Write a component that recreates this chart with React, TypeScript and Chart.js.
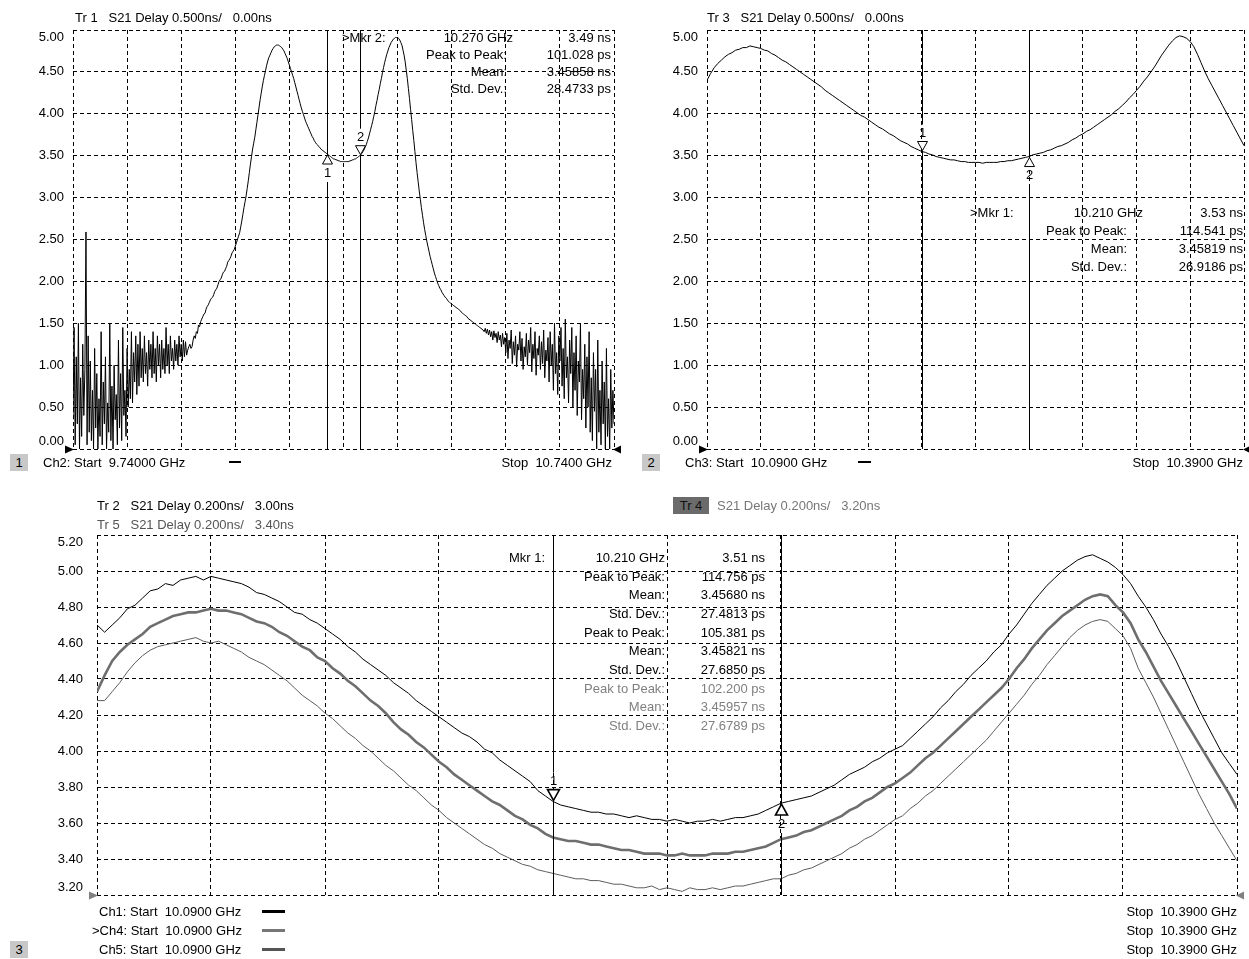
import React, { useEffect, useRef } from "react";
import { Chart, registerables } from "chart.js";
Chart.register(...registerables);

const FONT = '"Liberation Sans", Arial, Helvetica, sans-serif';

// ---------- Panel 1 (Tr 1, Ch2) : 501 points, 9.74 .. 10.74 GHz ----------
const P1_START = 9.74;
const P1_STOP = 10.74;
const P1_DELAY = [
  0.35, 1.45, 0.05, 1.10, 0.30, 1.50, 0.00, 0.85, 0.15, 1.25, 0.40, 0.95, 2.59, 0.05, 1.35, 0.20, 1.05, 0.10, 0.70, 0.00,
  1.20, 0.25, 0.90, 0.00, 0.60, 0.15, 1.40, 0.05, 0.80, 0.30, 1.10, 0.00, 0.55, 0.20, 1.50, 0.10, 0.75, 0.00, 1.00, 0.35,
  0.65, 0.05, 1.30, 0.25, 0.90, 0.10, 1.45, 0.40, 0.70, 0.15, 1.20, 0.50, 0.95, 0.60, 1.40, 0.55, 1.15, 0.80, 1.35, 0.65,
  1.25, 0.75, 1.40, 0.85, 1.20, 0.80, 1.35, 0.90, 1.15, 0.75, 1.30, 0.95, 1.25, 0.85, 1.40, 0.90, 1.20, 0.80, 1.35, 1.00,
  1.25, 0.85, 1.30, 0.95, 1.20, 0.90, 1.45, 1.00, 1.25, 0.90, 1.35, 1.05, 1.20, 0.95, 1.30, 1.05, 1.25, 1.00, 1.35, 1.10,
  1.25, 1.05, 1.30, 1.10, 1.28, 1.12, 1.18, 1.22, 1.25, 1.20, 1.22, 1.30, 1.35, 1.32, 1.40, 1.38, 1.48, 1.46, 1.52, 1.55,
  1.58, 1.61, 1.62, 1.67, 1.70, 1.72, 1.75, 1.78, 1.80, 1.81, 1.84, 1.88, 1.90, 1.92, 1.96, 2.00, 2.02, 2.04, 2.08, 2.11,
  2.12, 2.15, 2.18, 2.23, 2.25, 2.27, 2.30, 2.34, 2.36, 2.38, 2.42, 2.46, 2.50, 2.54, 2.58, 2.65, 2.72, 2.80, 2.88, 2.95,
  3.02, 3.11, 3.20, 3.30, 3.40, 3.49, 3.58, 3.65, 3.72, 3.81, 3.90, 3.99, 4.08, 4.17, 4.25, 4.33, 4.40, 4.46, 4.52, 4.58,
  4.63, 4.67, 4.70, 4.73, 4.76, 4.78, 4.80, 4.81, 4.82, 4.82, 4.82, 4.81, 4.80, 4.79, 4.77, 4.75, 4.72, 4.69, 4.66, 4.62,
  4.58, 4.54, 4.50, 4.46, 4.42, 4.37, 4.32, 4.27, 4.22, 4.17, 4.12, 4.07, 4.03, 3.99, 3.95, 3.91, 3.88, 3.85, 3.82, 3.79,
  3.76, 3.73, 3.71, 3.68, 3.66, 3.64, 3.63, 3.61, 3.60, 3.58, 3.57, 3.56, 3.55, 3.54, 3.53, 3.52, 3.51, 3.50, 3.49, 3.48,
  3.47, 3.46, 3.46, 3.45, 3.45, 3.44, 3.44, 3.43, 3.43, 3.43, 3.43, 3.43, 3.43, 3.43, 3.43, 3.43, 3.44, 3.44, 3.45, 3.45,
  3.46, 3.46, 3.47, 3.48, 3.49, 3.50, 3.51, 3.53, 3.55, 3.57, 3.60, 3.63, 3.67, 3.71, 3.76, 3.81, 3.86, 3.91, 3.97, 4.03,
  4.10, 4.16, 4.23, 4.29, 4.36, 4.42, 4.49, 4.55, 4.61, 4.66, 4.71, 4.75, 4.79, 4.82, 4.85, 4.87, 4.89, 4.90, 4.91, 4.91,
  4.91, 4.90, 4.88, 4.85, 4.82, 4.76, 4.70, 4.62, 4.52, 4.42, 4.30, 4.18, 4.05, 3.93, 3.80, 3.68, 3.55, 3.42, 3.30, 3.19,
  3.08, 2.98, 2.88, 2.79, 2.70, 2.62, 2.55, 2.48, 2.42, 2.36, 2.30, 2.25, 2.20, 2.15, 2.10, 2.06, 2.02, 1.98, 1.95, 1.92,
  1.90, 1.87, 1.85, 1.83, 1.81, 1.80, 1.78, 1.76, 1.75, 1.74, 1.73, 1.72, 1.71, 1.70, 1.69, 1.68, 1.67, 1.66, 1.65, 1.63,
  1.62, 1.61, 1.60, 1.59, 1.58, 1.56, 1.55, 1.54, 1.53, 1.52, 1.51, 1.50, 1.49, 1.48, 1.47, 1.46, 1.45, 1.44, 1.43, 1.42,
  1.40, 1.44, 1.38, 1.43, 1.36, 1.42, 1.34, 1.40, 1.30, 1.41, 1.33, 1.38, 1.27, 1.40, 1.30, 1.36, 1.22, 1.38, 1.25, 1.33,
  1.15, 1.38, 1.08, 1.30, 1.20, 1.42, 1.02, 1.28, 1.12, 1.35, 0.98, 1.25, 1.18, 1.40, 1.05, 1.32, 0.95, 1.22, 1.10, 1.38,
  1.00, 1.30, 1.15, 1.45, 0.92, 1.25, 1.08, 1.40, 0.88, 1.20, 1.12, 1.35, 0.95, 1.28, 1.02, 1.42, 0.85, 1.18, 1.05, 1.33,
  0.80, 1.40, 1.00, 1.25, 0.70, 1.50, 0.90, 1.15, 0.65, 1.35, 1.05, 1.45, 0.75, 1.20, 0.60, 1.55, 0.85, 1.10, 0.55, 1.30,
  0.90, 1.45, 0.50, 1.15, 0.70, 1.35, 0.40, 1.05, 0.80, 1.50, 0.35, 0.95, 0.60, 1.25, 0.25, 1.10, 0.50, 1.40, 0.20, 0.85,
  0.10, 1.15, 0.45, 0.95, 0.00, 1.30, 0.20, 0.70, 0.05, 1.05, 0.30, 0.80, 0.00, 1.20, 0.15, 0.60, 0.00, 0.95, 0.25, 0.70,
  0.30,
];

// ---------- Panel 2 (Tr 3, Ch3) ----------
const P2_START = 10.09;
const P2_STOP = 10.39;
const P2_DELAY = [
  4.40, 4.48, 4.55, 4.60, 4.64, 4.68, 4.71, 4.73, 4.76, 4.77,
  4.79, 4.79, 4.81, 4.80, 4.79, 4.78, 4.76, 4.75, 4.72, 4.70,
  4.67, 4.64, 4.62, 4.59, 4.56, 4.53, 4.50, 4.47, 4.44, 4.41,
  4.38, 4.35, 4.32, 4.28, 4.25, 4.22, 4.19, 4.16, 4.13, 4.10,
  4.07, 4.04, 4.01, 3.98, 3.96, 3.93, 3.90, 3.87, 3.84, 3.82,
  3.79, 3.76, 3.74, 3.71, 3.68, 3.66, 3.64, 3.61, 3.59, 3.57,
  3.55, 3.54, 3.52, 3.51, 3.49, 3.48, 3.47, 3.46, 3.45, 3.45,
  3.44, 3.43, 3.43, 3.42, 3.42, 3.42, 3.42, 3.41, 3.42, 3.42,
  3.42, 3.42, 3.43, 3.43, 3.44, 3.44, 3.45, 3.46, 3.47, 3.48,
  3.49, 3.51, 3.52, 3.53, 3.54, 3.56, 3.57, 3.59, 3.61, 3.62,
  3.64, 3.66, 3.69, 3.71, 3.74, 3.76, 3.79, 3.81, 3.84, 3.87,
  3.90, 3.93, 3.96, 3.99, 4.03, 4.06, 4.10, 4.14, 4.19, 4.23,
  4.28, 4.33, 4.39, 4.44, 4.50, 4.56, 4.63, 4.70, 4.76, 4.82,
  4.87, 4.91, 4.93, 4.92, 4.90, 4.86, 4.80, 4.71, 4.61, 4.51,
  4.42, 4.34, 4.26, 4.18, 4.10, 4.02, 3.94, 3.86, 3.78, 3.70,
  3.62,
];

// ---------- Panel 3 (Tr 2 / Tr 4 / Tr 5) ----------
const P3_START = 10.09;
const P3_STOP = 10.39;
const P3_CH1 = [
  4.70, 4.66, 4.70, 4.74, 4.79, 4.81, 4.85, 4.89, 4.90, 4.93,
  4.92, 4.95, 4.96, 4.97, 4.95, 4.97, 4.96, 4.95, 4.94, 4.93,
  4.91, 4.88, 4.87, 4.85, 4.83, 4.80, 4.77, 4.76, 4.73, 4.71,
  4.68, 4.65, 4.62, 4.58, 4.55, 4.51, 4.48, 4.45, 4.42, 4.38,
  4.35, 4.32, 4.28, 4.25, 4.22, 4.19, 4.16, 4.13, 4.10, 4.08,
  4.05, 4.01, 3.99, 3.95, 3.92, 3.89, 3.86, 3.83, 3.78, 3.75,
  3.72, 3.70, 3.69, 3.68, 3.67, 3.66, 3.66, 3.65, 3.65, 3.64,
  3.63, 3.64, 3.63, 3.62, 3.62, 3.61, 3.62, 3.61, 3.60, 3.61,
  3.61, 3.62, 3.61, 3.62, 3.63, 3.63, 3.64, 3.65, 3.67, 3.69,
  3.71, 3.72, 3.73, 3.74, 3.75, 3.77, 3.79, 3.81, 3.84, 3.87,
  3.89, 3.91, 3.94, 3.96, 3.99, 4.01, 4.03, 4.07, 4.11, 4.15,
  4.19, 4.24, 4.28, 4.33, 4.37, 4.42, 4.46, 4.50, 4.55, 4.59,
  4.65, 4.70, 4.76, 4.82, 4.87, 4.92, 4.96, 5.00, 5.03, 5.06,
  5.08, 5.09, 5.07, 5.05, 5.02, 4.98, 4.93, 4.86, 4.80, 4.73,
  4.65, 4.58, 4.50, 4.41, 4.32, 4.23, 4.15, 4.07, 3.99, 3.93,
  3.87,
];
const P3_CH4 = [
  4.33, 4.42, 4.50, 4.55, 4.59, 4.62, 4.65, 4.69, 4.71, 4.73,
  4.75, 4.76, 4.77, 4.77, 4.78, 4.79, 4.78, 4.78, 4.77, 4.76,
  4.74, 4.72, 4.71, 4.69, 4.66, 4.64, 4.61, 4.58, 4.56, 4.52,
  4.50, 4.46, 4.43, 4.39, 4.36, 4.32, 4.28, 4.25, 4.21, 4.16,
  4.12, 4.09, 4.05, 4.02, 3.98, 3.94, 3.91, 3.87, 3.84, 3.81,
  3.78, 3.75, 3.72, 3.70, 3.67, 3.64, 3.62, 3.59, 3.57, 3.54,
  3.52, 3.51, 3.50, 3.50, 3.49, 3.48, 3.48, 3.47, 3.46, 3.45,
  3.45, 3.44, 3.43, 3.43, 3.43, 3.42, 3.42, 3.43, 3.42, 3.42,
  3.42, 3.43, 3.43, 3.43, 3.44, 3.44, 3.45, 3.46, 3.47, 3.49,
  3.51, 3.52, 3.53, 3.55, 3.56, 3.58, 3.60, 3.62, 3.64, 3.67,
  3.69, 3.72, 3.74, 3.77, 3.80, 3.82, 3.85, 3.88, 3.92, 3.96,
  3.99, 4.03, 4.07, 4.11, 4.15, 4.19, 4.23, 4.27, 4.31, 4.35,
  4.40, 4.46, 4.51, 4.57, 4.62, 4.67, 4.71, 4.75, 4.78, 4.81,
  4.84, 4.86, 4.87, 4.86, 4.81, 4.77, 4.71, 4.62, 4.55, 4.47,
  4.39, 4.32, 4.25, 4.18, 4.11, 4.04, 3.97, 3.90, 3.83, 3.76,
  3.68,
];
const P3_CH5 = [
  4.28, 4.28, 4.33, 4.38, 4.44, 4.49, 4.53, 4.56, 4.58, 4.59,
  4.60, 4.61, 4.62, 4.63, 4.61, 4.60, 4.61, 4.59, 4.57, 4.55,
  4.52, 4.50, 4.48, 4.45, 4.42, 4.39, 4.35, 4.31, 4.28, 4.25,
  4.21, 4.18, 4.14, 4.10, 4.07, 4.03, 4.00, 3.96, 3.92, 3.89,
  3.85, 3.81, 3.78, 3.74, 3.70, 3.67, 3.63, 3.60, 3.57, 3.54,
  3.51, 3.48, 3.46, 3.43, 3.41, 3.39, 3.37, 3.36, 3.34, 3.33,
  3.32, 3.31, 3.30, 3.29, 3.29, 3.28, 3.28, 3.27, 3.26, 3.26,
  3.25, 3.24, 3.24, 3.25, 3.23, 3.24, 3.23, 3.22, 3.24, 3.23,
  3.23, 3.24, 3.23, 3.24, 3.25, 3.25, 3.26, 3.27, 3.28, 3.29,
  3.29, 3.31, 3.32, 3.34, 3.35, 3.37, 3.39, 3.41, 3.43, 3.46,
  3.48, 3.51, 3.53, 3.56, 3.59, 3.62, 3.64, 3.68, 3.71, 3.75,
  3.78, 3.82, 3.86, 3.90, 3.94, 3.98, 4.02, 4.06, 4.11, 4.16,
  4.21, 4.26, 4.31, 4.37, 4.42, 4.48, 4.53, 4.58, 4.63, 4.67,
  4.70, 4.72, 4.73, 4.72, 4.68, 4.64, 4.57, 4.46, 4.38, 4.30,
  4.21, 4.12, 4.03, 3.94, 3.85, 3.76, 3.68, 3.60, 3.53, 3.46,
  3.39,
];

// ---------- ticks ----------
const X1_TICKS = [9.74, 9.84, 9.94, 10.04, 10.14, 10.24, 10.34, 10.44, 10.54, 10.64, 10.74];
const X23_TICKS = [10.09, 10.12, 10.15, 10.18, 10.21, 10.24, 10.27, 10.30, 10.33, 10.36, 10.39];
const Y12_TICKS = [0, 0.5, 1.0, 1.5, 2.0, 2.5, 3.0, 3.5, 4.0, 4.5, 5.0];
const Y3_TICKS = [3.2, 3.4, 3.6, 3.8, 4.0, 4.2, 4.4, 4.6, 4.8, 5.0, 5.2];

// ---------- markers ----------
const MARKER_FREQS = [10.21, 10.27];
const MARKER_LABELS = ["1", "2"];

function toPoints(start: number, stop: number, vals: number[]) {
  const n = vals.length;
  return vals.map((v, i) => ({ x: start + ((stop - start) * i) / (n - 1), y: v }));
}

function interp(data: { x: number; y: number }[], f: number) {
  for (let i = 0; i < data.length - 1; i++) {
    const a = data[i], b = data[i + 1];
    if (f >= a.x && f <= b.x) {
      const t = (f - a.x) / (b.x - a.x);
      return a.y + t * (b.y - a.y);
    }
  }
  return data[data.length - 1].y;
}

const vnaPlugin = {
  id: "vna",
  afterDatasetsDraw(chart: any, _args: any, opts: any) {
    const { ctx, chartArea: a } = chart;
    const xs = chart.scales.x;
    const ys = chart.scales.y;
    ctx.save();
    // stimulus arrows at bottom corners
    ctx.fillStyle = opts.arrowColor || "#000";
    const b = Math.round(a.bottom) + 0.5;
    ctx.beginPath();
    ctx.moveTo(a.left - 8, b - 4);
    ctx.lineTo(a.left + 1, b);
    ctx.lineTo(a.left - 8, b + 4);
    ctx.closePath();
    ctx.fill();
    ctx.beginPath();
    ctx.moveTo(a.right + 7, b - 4);
    ctx.lineTo(a.right - 1, b);
    ctx.lineTo(a.right + 7, b + 4);
    ctx.closePath();
    ctx.fill();

    const s = opts.size || 10;
    const h = s * 0.9;
    ctx.font = `13px ${FONT}`;
    ctx.textAlign = "center";
    ctx.textBaseline = "middle";
    const seg = (x: number, y1: number, y2: number) => {
      if (y2 <= y1) return;
      ctx.beginPath();
      ctx.moveTo(x, y1);
      ctx.lineTo(x, y2);
      ctx.stroke();
    };
    for (const m of opts.markers) {
      const data = chart.data.datasets[m.ds].data;
      const v = interp(data, m.f);
      const px = Math.round(xs.getPixelForValue(m.f)) + 0.5;
      const py = ys.getPixelForValue(v);
      ctx.strokeStyle = "#000";
      ctx.lineWidth = 1;
      let tip: number, base: number, lab: number;
      if (m.active) {
        tip = py - 1;
        base = tip - h;
        lab = base - 8;
        seg(px, a.top, lab - 9);
        seg(px, tip, a.bottom);
      } else {
        tip = py + 1;
        base = tip + h;
        lab = base + 9;
        seg(px, a.top, tip);
        seg(px, lab + 9, a.bottom);
      }
      ctx.beginPath();
      ctx.moveTo(px - s / 2, base);
      ctx.lineTo(px + s / 2, base);
      ctx.lineTo(px, tip);
      ctx.closePath();
      ctx.fillStyle = "#fff";
      ctx.fill();
      ctx.lineWidth = opts.triWidth || 1;
      ctx.stroke();
      ctx.fillStyle = "#000";
      ctx.fillText(m.label, px, lab);
    }
    ctx.restore();
  },
};

type PanelCfg = {
  w: number;
  h: number;
  pad: { left: number; right: number; top: number; bottom: number };
  yWidth: number;
  tickPad: number;
  xMin: number;
  xMax: number;
  xTicks: number[];
  yMin: number;
  yMax: number;
  yTicks: number[];
  datasets: any[];
  markers: any[];
  arrowColor: string;
  size: number;
  triWidth: number;
};

function buildConfig(c: PanelCfg): any {
  const gridCommon = { color: "#000", lineWidth: 1, drawTicks: false };
  const borderCommon = { display: false, dash: [4, 3] };
  return {
    type: "line",
    data: { datasets: c.datasets },
    plugins: [vnaPlugin],
    options: {
      animation: false,
      responsive: false,
      devicePixelRatio: 1,
      events: [],
      parsing: false,
      layout: { padding: c.pad },
      elements: { point: { radius: 0 }, line: { tension: 0 } },
      plugins: {
        legend: { display: false },
        tooltip: { enabled: false },
        vna: { markers: c.markers, arrowColor: c.arrowColor, size: c.size, triWidth: c.triWidth },
      },
      scales: {
        x: {
          type: "linear",
          min: c.xMin,
          max: c.xMax,
          afterBuildTicks: (s: any) => {
            s.ticks = c.xTicks.map((v) => ({ value: v }));
          },
          afterFit: (s: any) => {
            s.height = 0;
            s.paddingLeft = 0;
            s.paddingRight = 0;
          },
          ticks: { display: false },
          grid: gridCommon,
          border: borderCommon,
        },
        y: {
          type: "linear",
          min: c.yMin,
          max: c.yMax,
          afterBuildTicks: (s: any) => {
            s.ticks = c.yTicks.map((v) => ({ value: v }));
          },
          afterFit: (s: any) => {
            s.width = c.yWidth;
            s.paddingTop = 0;
            s.paddingBottom = 0;
          },
          ticks: {
            color: "#000",
            padding: c.tickPad,
            font: { family: FONT, size: 13 },
            autoSkip: false,
            callback: (v: any, i: number, all: any[]) => {
              const s = Number(v).toFixed(2);
              if (i === 0) return [s, ""];
              if (i === all.length - 1) return ["", s];
              return s;
            },
          },
          grid: gridCommon,
          border: borderCommon,
        },
      },
    },
  };
}

function Panel({ left, top, cfg }: { left: number; top: number; cfg: PanelCfg }) {
  const ref = useRef<HTMLCanvasElement | null>(null);
  useEffect(() => {
    if (!ref.current) return;
    const chart = new Chart(ref.current, buildConfig(cfg));
    return () => chart.destroy();
  }, []);
  return (
    <canvas
      ref={ref}
      width={cfg.w}
      height={cfg.h}
      style={{ position: "absolute", left, top, width: cfg.w, height: cfg.h }}
    />
  );
}

const P1_POINTS = toPoints(P1_START, P1_STOP, P1_DELAY);
const P2_POINTS = toPoints(P2_START, P2_STOP, P2_DELAY);

const panel1: PanelCfg = {
  w: 624,
  h: 470,
  pad: { left: 0, right: 10, top: 30, bottom: 21 },
  yWidth: 73,
  tickPad: 9,
  xMin: P1_START,
  xMax: P1_STOP,
  xTicks: X1_TICKS,
  yMin: 0,
  yMax: 5,
  yTicks: Y12_TICKS,
  datasets: [{ data: P1_POINTS, borderColor: "#000", borderWidth: 1 }],
  markers: [
    { f: MARKER_FREQS[0], label: MARKER_LABELS[0], ds: 0, active: false },
    { f: MARKER_FREQS[1], label: MARKER_LABELS[1], ds: 0, active: true },
  ],
  arrowColor: "#000",
  size: 10,
  triWidth: 1,
};

const panel2: PanelCfg = {
  w: 625,
  h: 470,
  pad: { left: 0, right: 5, top: 30, bottom: 21 },
  yWidth: 83,
  tickPad: 9,
  xMin: P2_START,
  xMax: P2_STOP,
  xTicks: X23_TICKS,
  yMin: 0,
  yMax: 5,
  yTicks: Y12_TICKS,
  datasets: [{ data: P2_POINTS, borderColor: "#000", borderWidth: 1 }],
  markers: [
    { f: MARKER_FREQS[0], label: MARKER_LABELS[0], ds: 0, active: true },
    { f: MARKER_FREQS[1], label: MARKER_LABELS[1], ds: 0, active: false },
  ],
  arrowColor: "#000",
  size: 10,
  triWidth: 1,
};

const panel3: PanelCfg = {
  w: 1249,
  h: 479,
  pad: { left: 0, right: 12, top: 55, bottom: 64 },
  yWidth: 97,
  tickPad: 14,
  xMin: P3_START,
  xMax: P3_STOP,
  xTicks: X23_TICKS,
  yMin: 3.2,
  yMax: 5.2,
  yTicks: Y3_TICKS,
  datasets: [
    { data: toPoints(P3_START, P3_STOP, P3_CH1), borderColor: "#000", borderWidth: 1 },
    { data: toPoints(P3_START, P3_STOP, P3_CH4), borderColor: "#6e6e6e", borderWidth: 2.6 },
    { data: toPoints(P3_START, P3_STOP, P3_CH5), borderColor: "#5c5c5c", borderWidth: 1 },
  ],
  markers: [
    { f: MARKER_FREQS[0], label: MARKER_LABELS[0], ds: 0, active: true },
    { f: MARKER_FREQS[1], label: MARKER_LABELS[1], ds: 0, active: false },
  ],
  arrowColor: "#808080",
  size: 12,
  triWidth: 1.6,
};

type Txt = { t: string; x: number; y: number; a?: "l" | "r" | "c"; c?: string };

const TEXTS: Txt[] = [
  // panel 1
  { t: "Tr 1   S21 Delay 0.500ns/   0.00ns", x: 75, y: 17 },
  { t: ">Mkr 2:", x: 342, y: 37 },
  { t: "10.270 GHz", x: 513, y: 37, a: "r" },
  { t: "3.49 ns", x: 611, y: 37, a: "r" },
  { t: "Peak to Peak:", x: 507, y: 54, a: "r" },
  { t: "101.028 ps", x: 611, y: 54, a: "r" },
  { t: "Mean:", x: 507, y: 71, a: "r" },
  { t: "3.45858 ns", x: 611, y: 71, a: "r" },
  { t: "Std. Dev.:", x: 507, y: 88, a: "r" },
  { t: "28.4733 ps", x: 611, y: 88, a: "r" },
  { t: "Ch2: Start  9.74000 GHz", x: 43, y: 462 },
  { t: "Stop  10.7400 GHz", x: 612, y: 462, a: "r" },
  // panel 2
  { t: "Tr 3   S21 Delay 0.500ns/   0.00ns", x: 707, y: 17 },
  { t: ">Mkr 1:", x: 970, y: 212 },
  { t: "10.210 GHz", x: 1143, y: 212, a: "r" },
  { t: "3.53 ns", x: 1243, y: 212, a: "r" },
  { t: "Peak to Peak:", x: 1127, y: 230, a: "r" },
  { t: "114.541 ps", x: 1243, y: 230, a: "r" },
  { t: "Mean:", x: 1127, y: 248, a: "r" },
  { t: "3.45819 ns", x: 1243, y: 248, a: "r" },
  { t: "Std. Dev.:", x: 1127, y: 266, a: "r" },
  { t: "26.9186 ps", x: 1243, y: 266, a: "r" },
  { t: "Ch3: Start  10.0900 GHz", x: 685, y: 462 },
  { t: "Stop  10.3900 GHz", x: 1243, y: 462, a: "r" },
  // panel 3 headers
  { t: "Tr 2   S21 Delay 0.200ns/   3.00ns", x: 97, y: 505 },
  { t: "Tr 5   S21 Delay 0.200ns/   3.40ns", x: 97, y: 524, c: "#555" },
  { t: "S21 Delay 0.200ns/   3.20ns", x: 717, y: 505, c: "#777" },
  // panel 3 readout
  { t: "Mkr 1:", x: 545, y: 557, a: "r" },
  { t: "10.210 GHz", x: 665, y: 557, a: "r" },
  { t: "3.51 ns", x: 765, y: 557, a: "r" },
  { t: "Peak to Peak:", x: 665, y: 576, a: "r" },
  { t: "114.756 ps", x: 765, y: 576, a: "r" },
  { t: "Mean:", x: 665, y: 594, a: "r" },
  { t: "3.45680 ns", x: 765, y: 594, a: "r" },
  { t: "Std. Dev.:", x: 665, y: 613, a: "r" },
  { t: "27.4813 ps", x: 765, y: 613, a: "r" },
  { t: "Peak to Peak:", x: 665, y: 632, a: "r" },
  { t: "105.381 ps", x: 765, y: 632, a: "r" },
  { t: "Mean:", x: 665, y: 650, a: "r" },
  { t: "3.45821 ns", x: 765, y: 650, a: "r" },
  { t: "Std. Dev.:", x: 665, y: 669, a: "r" },
  { t: "27.6850 ps", x: 765, y: 669, a: "r" },
  { t: "Peak to Peak:", x: 665, y: 688, a: "r", c: "#808080" },
  { t: "102.200 ps", x: 765, y: 688, a: "r", c: "#808080" },
  { t: "Mean:", x: 665, y: 706, a: "r", c: "#808080" },
  { t: "3.45957 ns", x: 765, y: 706, a: "r", c: "#808080" },
  { t: "Std. Dev.:", x: 665, y: 725, a: "r", c: "#808080" },
  { t: "27.6789 ps", x: 765, y: 725, a: "r", c: "#808080" },
  // panel 3 footer
  { t: "Ch1: Start  10.0900 GHz", x: 99, y: 911 },
  { t: ">Ch4: Start  10.0900 GHz", x: 92, y: 930 },
  { t: "Ch5: Start  10.0900 GHz", x: 99, y: 949 },
  { t: "Stop  10.3900 GHz", x: 1237, y: 911, a: "r" },
  { t: "Stop  10.3900 GHz", x: 1237, y: 930, a: "r" },
  { t: "Stop  10.3900 GHz", x: 1237, y: 949, a: "r" },
];

const SWATCHES = [
  { x: 229, y: 461, w: 12, h: 2, c: "#000" },
  { x: 858, y: 461, w: 13, h: 2, c: "#000" },
  { x: 262, y: 910, w: 23, h: 3, c: "#000" },
  { x: 262, y: 929, w: 23, h: 3, c: "#777" },
  { x: 262, y: 948, w: 23, h: 3, c: "#555" },
];

const BOXES = [
  { t: "1", x: 10, y: 454, w: 18, h: 17, bg: "#c8c8c8", c: "#000" },
  { t: "2", x: 642, y: 454, w: 18, h: 17, bg: "#c8c8c8", c: "#000" },
  { t: "3", x: 10, y: 941, w: 18, h: 17, bg: "#c8c8c8", c: "#000" },
  { t: "Tr 4", x: 673, y: 497, w: 36, h: 17, bg: "#6b6b6b", c: "#111" },
];

export default function App() {
  return (
    <div
      style={{
        position: "absolute",
        left: 0,
        top: 0,
        width: 1249,
        height: 959,
        background: "#fff",
        overflow: "hidden",
        fontFamily: FONT,
      }}
    >
      <Panel left={0} top={0} cfg={panel1} />
      <Panel left={624} top={0} cfg={panel2} />
      <Panel left={0} top={480} cfg={panel3} />
      {TEXTS.map((t, i) => (
        <div
          key={"t" + i}
          style={{
            position: "absolute",
            left: t.x,
            top: t.y,
            transform: `translate(${t.a === "r" ? "-100%" : t.a === "c" ? "-50%" : "0"}, -50%)`,
            whiteSpace: "pre",
            fontSize: 13,
            lineHeight: "15px",
            color: t.c || "#000",
          }}
        >
          {t.t}
        </div>
      ))}
      {SWATCHES.map((s, i) => (
        <div
          key={"s" + i}
          style={{ position: "absolute", left: s.x, top: s.y, width: s.w, height: s.h, background: s.c }}
        />
      ))}
      {BOXES.map((b, i) => (
        <div
          key={"b" + i}
          style={{
            position: "absolute",
            left: b.x,
            top: b.y,
            width: b.w,
            height: b.h,
            background: b.bg,
            color: b.c,
            fontSize: 13,
            lineHeight: b.h + "px",
            textAlign: "center",
          }}
        >
          {b.t}
        </div>
      ))}
    </div>
  );
}
